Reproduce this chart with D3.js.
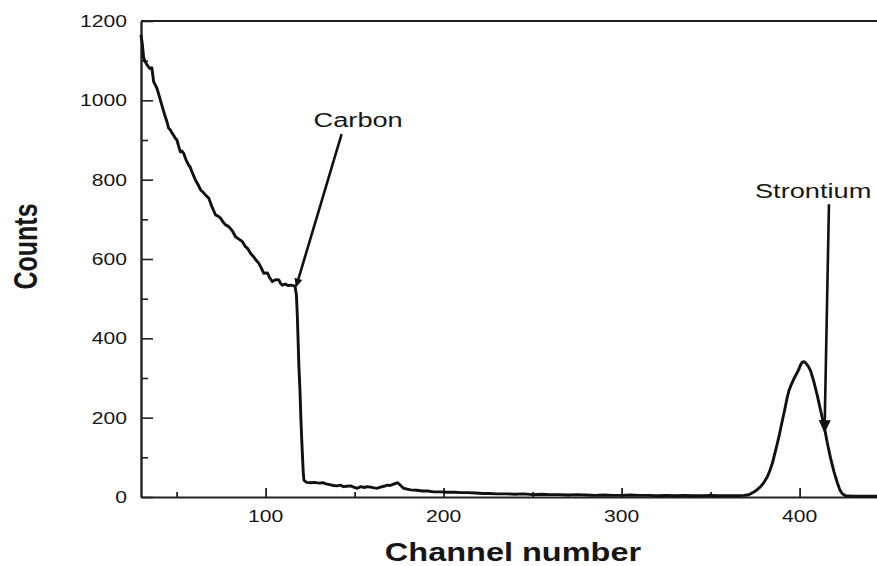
<!DOCTYPE html>
<html>
<head>
<meta charset="utf-8">
<script src="https://cdn.jsdelivr.net/npm/d3@7"></script>
<style>
  html, body { margin: 0; padding: 0; background: #fff; }
  svg { display: block; }
  text { font-family: "Liberation Sans", Arial, Helvetica, sans-serif; fill: #161616; }
</style>
</head>
<body>
<svg id="chart" width="877" height="566"></svg>
<script>
// Spectrum: counts per channel
const channels = [
  30, 30.8, 31.5, 32.4, 33.3, 34.3, 35.2, 36.1, 37.1, 38.9, 40.3, 41.7, 43.2, 44.6, 45.5, 46.5,
  47.4, 48.3, 49.2, 50.2, 51.1, 52.1, 53.0, 53.9, 55.3, 56.7, 57.6, 58.6, 60.5, 62.0, 63.5, 65.0,
  66.3, 68.1, 70.0, 71.9, 73.3, 74.7, 76.0, 77.5, 78.9, 80.3, 81.7, 83.1, 85.0, 86.9, 88.5, 90.0,
  91.6, 93.0, 94.5, 96.2, 97.6, 99.0, 101.0, 102.4, 103.8, 105.6, 107.5, 108.5, 109.4, 111.0, 112.5,
  114.0, 115.5, 116.5, 117.3, 117.8, 118.2, 118.7, 119.3, 119.8, 120.3, 120.8, 121.2, 121.6, 123.0,
  125.3, 127.5, 130.0, 132.0, 134.0, 136.0, 138.2, 140.0, 142.0, 143.8, 145.5, 147.8, 149.5, 151.5,
  153.5, 155.5, 157.1, 159.0, 161.0, 162.8, 164.5, 166.5, 168.4, 170.0, 171.5, 173.0, 174.0, 175.0,
  176.3, 177.5, 179.5, 181.5, 185.0, 188.0, 191.0, 194.4, 198.0, 202.0, 206.0, 210.0, 213.3, 218.0,
  222.0, 226.0, 230.0, 235.0, 240.0, 245.0, 250.0, 255.0, 260.0, 265.0, 270.0, 275.0, 280.0, 285.0,
  290.0, 295.0, 300.0, 305.0, 310.0, 315.0, 320.0, 325.0, 330.0, 335.0, 340.0, 345.0, 350.0, 355.0,
  360.0, 365.0, 368.7, 370.5, 372.5, 374.5, 376.3, 378.1, 380.0, 381.9, 383.3, 384.7, 386.5, 388.4,
  389.8, 391.2, 392.1, 393.0, 394.0, 395.0, 395.9, 396.8, 398.2, 399.6, 400.5, 401.5, 402.5, 403.4,
  404.8, 406.2, 408.0, 410.0, 411.8, 413.7, 415.5, 417.4, 419.3, 421.2, 422.6, 424.0, 425.8, 430.0,
  435.0, 440.0, 445.0
];
const counts = [
  1165, 1140, 1107, 1097, 1090, 1084, 1080, 1082, 1047, 1031, 1010, 988, 965, 946, 930, 925,
  918, 912, 905, 900, 885, 870, 872, 867, 850, 837, 832, 820, 800, 788, 774, 768,
  761, 753, 730, 711, 708, 703, 694, 686, 683, 677, 668, 656, 650, 644, 632, 626,
  614, 607, 598, 589, 577, 564, 565, 552, 543, 548, 547, 538, 534, 537, 533,
  534, 533, 532, 510, 460, 404, 330, 270, 200, 145, 95, 58, 42, 37,
  36, 37, 35, 36, 33, 31, 29, 28, 30, 26, 27, 28, 25, 22,
  26, 24, 26, 25, 23, 22, 25, 27, 30, 29, 32, 34, 36, 33,
  27, 22, 20, 18, 17, 15, 15, 13, 13, 12, 12, 11, 11, 10,
  9, 9, 8, 8, 7, 8, 6, 7, 6, 6, 5, 6, 5, 4,
  5, 4, 4, 5, 4, 4, 3, 4, 3, 4, 3, 3, 4, 3,
  3, 3, 4, 5, 8, 13, 19, 26, 37, 51, 67, 85, 117, 152,
  182, 211, 230, 250, 268, 280, 289, 298, 310, 322, 333, 340, 341, 338,
  330, 318, 291, 255, 218, 181, 138, 98, 64, 36, 18, 8, 3, 2,
  2, 2, 2
];

// Axis ticks
const xMajorTicks = [100, 200, 300, 400];
const xMinorTicks = [50, 150, 250, 350];
const yMajorTicks = [0, 200, 400, 600, 800, 1000, 1200];
const yMinorTicks = [100, 300, 500, 700, 900, 1100];

// Peak annotations (label anchor, arrow tail, arrow tip in data units)
const annotLabels = ["Carbon", "Strontium"];
const annotLabelChannel = [152, 407.6];
const annotLabelCount = [933, 754];
const annotTailChannel = [142.7, 416.5];
const annotTailCount = [915, 738];
const annotTipChannel = [117, 414];
const annotTipCount = [528, 161];

const svg = d3.select("#chart");
const ink = "#111";

const x = d3.scaleLinear().domain([30, 450]).range([141, 888.6]);
const y = d3.scaleLinear().domain([0, 1200]).range([497, 21]);

// Frame top line
svg.append("line")
  .attr("x1", x(30)).attr("x2", x(450))
  .attr("y1", y(1200)).attr("y2", y(1200))
  .attr("stroke", "#222").attr("stroke-width", 1.8);

// X axis: major and minor ticks pointing inward
const gx = svg.append("g").attr("transform", `translate(0,${y(0)})`);
gx.call(d3.axisBottom(x).tickValues(xMajorTicks).tickSize(-9).tickSizeOuter(0).tickFormat(""));
gx.append("g").call(d3.axisBottom(x).tickValues(xMinorTicks).tickSize(-5).tickSizeOuter(0).tickFormat(""))
  .select(".domain").remove();
gx.selectAll("path.domain").attr("stroke", "#222").attr("stroke-width", 2.2);
gx.selectAll(".tick line").attr("stroke", "#222").attr("stroke-width", 1.8);

// Y axis
const gy = svg.append("g").attr("transform", `translate(${x(30)},0)`);
gy.call(d3.axisLeft(y).tickValues(yMajorTicks).tickSize(-12).tickSizeOuter(0).tickFormat(""));
gy.append("g").call(d3.axisLeft(y).tickValues(yMinorTicks).tickSize(-7).tickSizeOuter(0).tickFormat(""))
  .select(".domain").remove();
gy.selectAll("path.domain").attr("stroke", "#222").attr("stroke-width", 2.4);
gy.selectAll(".tick line").attr("stroke", "#222").attr("stroke-width", 1.6);

// Tick labels (wide Arial-like lettering)
const labelStretch = 1.28;
svg.append("g").selectAll("text").data(xMajorTicks).join("text")
  .attr("transform", d => `translate(${x(d)},${y(0) + 25}) scale(${labelStretch},1)`)
  .attr("text-anchor", "middle")
  .attr("font-size", 16.5)
  .text(d => d);

svg.append("g").selectAll("text").data(yMajorTicks).join("text")
  .attr("transform", d => `translate(${x(30) - 14},${y(d) + 6}) scale(${labelStretch},1)`)
  .attr("text-anchor", "end")
  .attr("font-size", 16.5)
  .text(d => d);

// Axis titles
svg.append("text")
  .attr("transform", `translate(513,561) scale(1.3,1)`)
  .attr("text-anchor", "middle")
  .attr("font-size", 25).attr("font-weight", "bold")
  .text("Channel number");

svg.append("text")
  .attr("transform", `translate(37,246.5) scale(1.3,1) rotate(-90)`)
  .attr("text-anchor", "middle")
  .attr("font-size", 25).attr("font-weight", "bold")
  .text("Counts");

// Spectrum line
const line = d3.line().x(d => x(d[0])).y(d => y(d[1]));
svg.append("path")
  .datum(channels.map((c, i) => [c, counts[i]]))
  .attr("d", line)
  .attr("fill", "none")
  .attr("stroke", ink)
  .attr("stroke-width", 2.9)
  .attr("stroke-linejoin", "round");

// Annotations with arrows
const headLen = [9, 13], headHalf = [4, 6];
annotLabels.forEach((label, i) => {
  svg.append("text")
    .attr("transform", `translate(${x(annotLabelChannel[i])},${y(annotLabelCount[i])}) scale(1.36,1)`)
    .attr("text-anchor", "middle")
    .attr("font-size", 20)
    .text(label);

  const x1 = x(annotTailChannel[i]), y1 = y(annotTailCount[i]);
  const x2 = x(annotTipChannel[i]), y2 = y(annotTipCount[i]);
  const len = Math.hypot(x2 - x1, y2 - y1);
  const ux = (x2 - x1) / len, uy = (y2 - y1) / len;
  const bx = x2 - ux * headLen[i], by = y2 - uy * headLen[i];
  svg.append("line")
    .attr("x1", x1).attr("y1", y1).attr("x2", bx).attr("y2", by)
    .attr("stroke", ink).attr("stroke-width", 2.6);
  svg.append("path")
    .attr("d", `M${x2},${y2}L${bx - uy * headHalf[i]},${by + ux * headHalf[i]}L${bx + uy * headHalf[i]},${by - ux * headHalf[i]}Z`)
    .attr("fill", ink);
});
</script>
</body>
</html>
